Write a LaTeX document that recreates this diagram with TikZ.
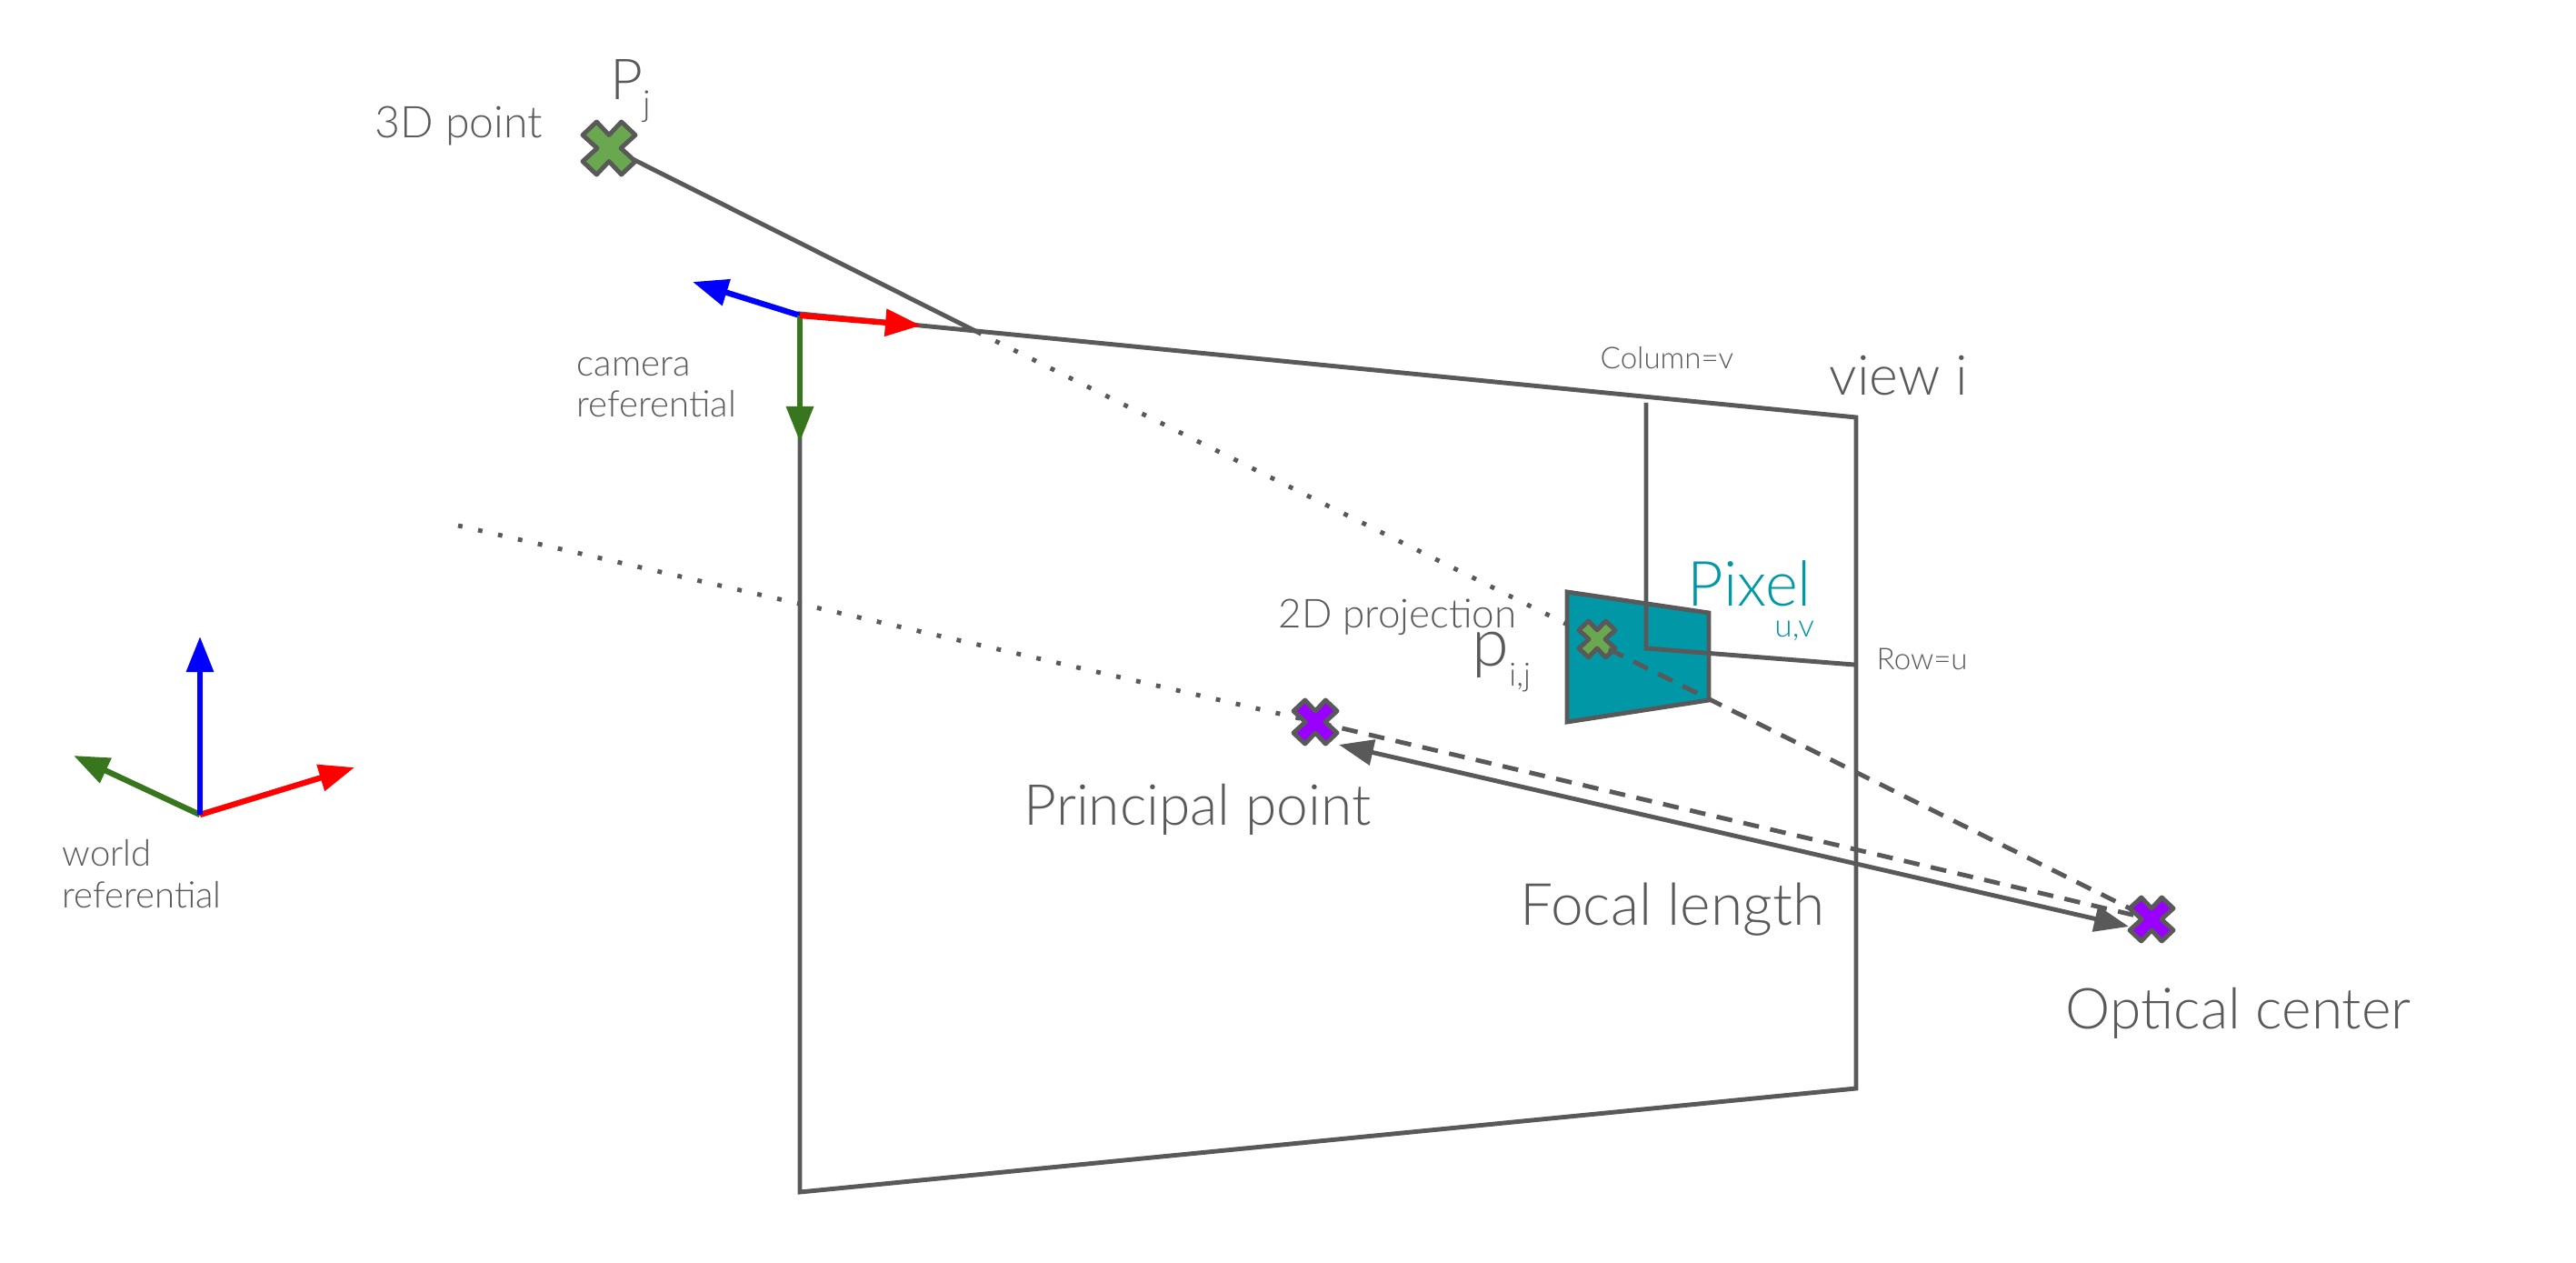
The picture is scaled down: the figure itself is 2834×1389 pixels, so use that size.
\documentclass[tikz,border=0pt]{standalone}
\usepackage{fontspec}
\setmainfont{Lato Light}
\usepackage{tikz}
\usetikzlibrary{arrows.meta,positioning}
\definecolor{linegray}{HTML}{595959}
\definecolor{pixelteal}{HTML}{0097A7}
\definecolor{crosspurple}{HTML}{9900FF}
\definecolor{crossgreen}{HTML}{6AA84F}
\definecolor{axisgreen}{HTML}{38761D}

\begin{document}
\begin{tikzpicture}[
    x=0.01cm, y=-0.01cm,
    frameline/.style={draw=linegray, line width=1.4pt},
    rayline/.style={frameline, dash pattern=on 5pt off 3.6pt},
    dotline/.style={draw=linegray, line width=1.4pt, dash pattern=on 1.4pt off 5pt},
    focalarrow/.style={frameline, {Triangle[length=3.8mm, width=2.8mm]}-{Triangle[length=3.8mm, width=2.8mm]}},
    axis/.style={line width=1.8pt, -{Triangle[length=3.9mm, width=2.9mm]}},
    biglabel/.style={text=linegray, anchor=base west, inner sep=0pt, font=\fontsize{17.7}{21}\selectfont},
    midlabel/.style={text=linegray, anchor=base west, inner sep=0pt, font=\fontsize{13.7}{17}\selectfont},
    reflabel/.style={text=linegray, anchor=west, align=left, inner sep=0pt, font=\fontsize{11.4}{13}\selectfont},
    smalllabel/.style={text=linegray, anchor=base west, inner sep=0pt, font=\fontsize{9.4}{12}\selectfont},
    pics/xmark/.style 2 args={code={
        \filldraw[draw=linegray, line width=1.4pt, fill=#1, line join=round, scale=#2]
            (0,-.5) -- (.47,-1) -- (1,-.5) -- (.45,0) -- (1,.5) -- (.47,1) -- (0,.5)
            -- (-.47,1) -- (-1,.5) -- (-.45,0) -- (-1,-.5) -- (-.47,-1) -- cycle;
    }}
]
\useasboundingbox (0,0) rectangle (2834,1389);

% image plane and pixel
\coordinate (tl) at (880,345);
\coordinate (tr) at (2042,459);
\coordinate (br) at (2042,1197);
\coordinate (bl) at (880,1311);
\coordinate (hit) at (1075,365);
\coordinate (pointj) at (670,163);
\coordinate (pointjedge) at (696,175);
\coordinate (proj) at (1757,703);
\coordinate (projedge) at (1770,714);
\coordinate (principal) at (1447,794);
\coordinate (optical) at (2367,1011);
\coordinate (farend) at (504,578);
\coordinate (pxa) at (1724,651);
\coordinate (pxb) at (1880,674);
\coordinate (pxc) at (1880,770);
\coordinate (pxd) at (1724,794);
\coordinate (coltop) at (1811,443);
\coordinate (corner) at (1811,713);
\coordinate (rowend) at (2040,731);
\coordinate (focalstart) at (1473,819);
\coordinate (focalend) at (2342,1019);

\draw[frameline] (tl) -- (tr) -- (br) -- (bl) -- cycle;
\filldraw[frameline, fill=pixelteal] (pxa) -- (pxb) -- (pxc) -- (pxd) -- cycle;
\draw[frameline] (coltop) -- (corner) -- (rowend);

% rays
\draw[frameline] (pointjedge) -- (hit);
\draw[dotline] (hit) -- (proj);
\draw[dotline] (farend) -- (principal);
\pic at (proj) {xmark={crossgreen}{20}};
\draw[rayline] (projedge) -- (optical);
\draw[rayline] (principal) -- (optical);
\draw[focalarrow] (focalstart) -- (focalend);
\pic at (pointj) {xmark={crossgreen}{29}};
\pic at (principal) {xmark={crosspurple}{24}};
\pic at (optical) {xmark={crosspurple}{24}};

% referentials
\coordinate (camo) at (880,347);
\coordinate (camz) at (762,310);
\coordinate (camx) at (1013,358);
\coordinate (camy) at (880,486);
\draw[axis, blue] (camo) -- (camz);
\draw[axis, axisgreen] (camo) -- (camy);
\draw[axis, red] (camo) -- (camx);
\coordinate (worldo) at (220,896);
\coordinate (worldz) at (220,700);
\coordinate (worldx) at (390,844);
\coordinate (worldy) at (81,831);
\draw[axis, red] (worldo) -- (worldx);
\draw[axis, axisgreen] (worldo) -- (worldy);
\draw[axis, blue] (worldo) -- (worldz);

% labels
\node[midlabel] (pointlabel) at (412,152) {3D point};
\node[biglabel] (pjlabel) at (671,110) {P\raisebox{-5pt}{\fontsize{11}{11}\selectfont j}};
\node[reflabel] (camlabel) at (634,426) {camera\\referential};
\node[reflabel] (worldlabel) at (68,961) {world\\referential};
\node[biglabel, font=\fontsize{17.3}{21}\selectfont] (viewlabel) at (2012,435) {view i};
\node[smalllabel] (collabel) at (1760,406) {Column=v};
\node[smalllabel] (rowlabel) at (2064,737) {Row=u};
\node[biglabel, text=pixelteal, font=\fontsize{19.5}{21}\selectfont] (pixellabel) at (1856,667) {Pixel\hspace{-11.5pt}\raisebox{-9.5pt}{\fontsize{10}{10}\selectfont u,v}};
\node[midlabel, font=\fontsize{12.5}{15}\selectfont] (projlabel) at (1406,691) {2D projection};
\node[biglabel, font=\fontsize{21}{21}\selectfont] (pijlabel) at (1619,733) {p\raisebox{-6pt}{\fontsize{10}{10}\selectfont i,j}};
\node[biglabel] (principallabel) at (1126,907) {Principal point};
\node[biglabel, font=\fontsize{18.2}{21}\selectfont] (focallabel) at (1672,1017) {Focal length};
\node[biglabel] (opticallabel) at (2272,1131) {Optical center};
\end{tikzpicture}
\end{document}
